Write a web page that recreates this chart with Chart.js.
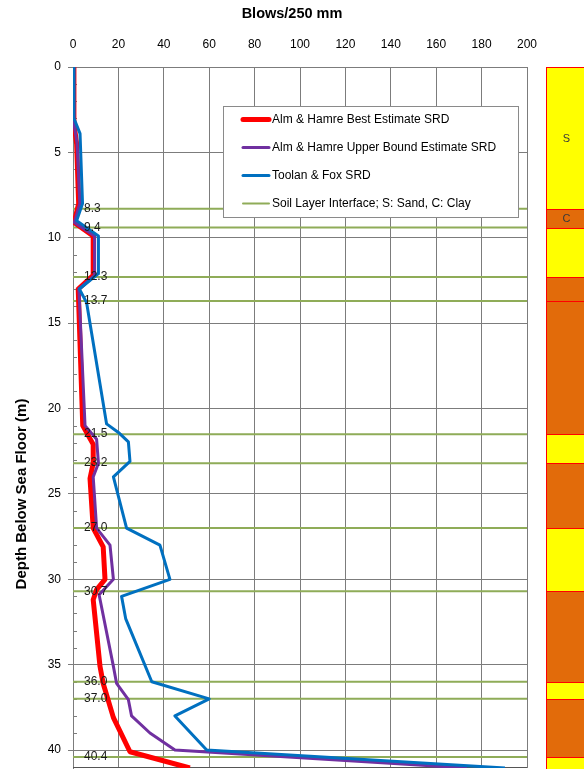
<!DOCTYPE html>
<html>
<head>
<meta charset="utf-8">
<script src="https://cdn.jsdelivr.net/npm/chart.js@4/dist/chart.umd.min.js"></script>
<style>
  html, body { margin: 0; padding: 0; background: #fff; overflow: hidden; }
  #wrap { position: relative; width: 584px; height: 769px; }
</style>
</head>
<body>
<div id="wrap"><canvas id="srd" width="584" height="769"></canvas></div>
<script>
// Soil resistance to driving profiles: blows per 250 mm against depth below sea floor (m)
const bestDepth = [0, 3.3, 4.5, 8.0, 9.1, 9.9, 12.2, 13.0, 21.0, 22.1, 23.2, 24.1, 27.0, 28.1, 30.0, 30.6, 31.2, 35.1, 36.1, 38.1, 40.1, 41.05];
const bestBlows = [0.4, 0.4, 1.6, 2.5, 0.5, 8.9, 8.9, 2.3, 4.3, 8.9, 8.9, 7.5, 8.9, 13.3, 14.1, 10.4, 8.9, 11.9, 13.3, 17.8, 25.1, 51.5];

const upperDepth = [0, 3.3, 4.5, 8.0, 9.1, 9.9, 12.2, 13.0, 21.0, 21.8, 23.2, 24.0, 27.0, 28.0, 30.0, 30.9, 35.1, 36.1, 37.05, 38.0, 39.0, 40.0, 41.05];
const upperBlows = [0.4, 0.4, 1.8, 3.0, 0.6, 9.5, 9.5, 2.6, 5.3, 10.4, 11.2, 8.9, 10.4, 16.3, 17.8, 11.5, 17.8, 19.2, 24.4, 25.8, 33.9, 44.9, 173.5];

const toolanDepth = [0, 3.0, 3.9, 8.0, 9.0, 9.9, 12.1, 13.0, 13.8, 20.9, 21.4, 21.95, 23.1, 24.0, 27.0, 28.0, 30.0, 31.0, 32.3, 34.1, 36.0, 37.0, 38.0, 40.0, 41.05];
const toolanBlows = [0.4, 0.4, 3.1, 4.2, 1.6, 11.2, 11.2, 2.8, 6.0, 14.8, 20.0, 24.4, 25.1, 17.8, 23.6, 38.3, 42.7, 21.4, 23.2, 28.8, 34.7, 60.0, 44.9, 58.9, 190.3];

// Soil layer interfaces (m) and layer types from the sea floor down
const interfaceDepths = [8.3, 9.4, 12.3, 13.7, 21.5, 23.2, 27.0, 30.7, 36.0, 37.0, 40.4];
const layerTypes = ['S', 'C', 'S', 'C', 'C', 'S', 'C', 'S', 'C', 'S', 'C', 'S'];
const layerTags  = ['S', 'C', '', '', '', '', '', '', '', '', '', ''];

// Axis ticks
const blowTicks = [0, 20, 40, 60, 80, 100, 120, 140, 160, 180, 200];
const depthTicks = [0, 5, 10, 15, 20, 25, 30, 35, 40];

const seriesNames = [
  'Alm & Hamre Best Estimate SRD',
  'Alm & Hamre Upper Bound Estimate SRD',
  'Toolan & Fox SRD',
  'Soil Layer Interface; S: Sand, C: Clay'
];

const FONT = "'Liberation Sans', Arial, sans-serif";
const GRID = '#7c7c7c';
const SAND = '#FFFF00';
const CLAY = '#E26B0A';
const DEPTH_MAX = 41.05;

const toPoints = (depths, blows) => depths.map((d, i) => ({ x: blows[i], y: d }));

const interfacePoints = [];
interfaceDepths.forEach(d => {
  interfacePoints.push({ x: blowTicks[0], y: d }, { x: blowTicks[blowTicks.length - 1], y: d }, { x: null, y: null });
});

Chart.defaults.font.family = FONT;
Chart.defaults.color = '#000';

const noLabelPadding = s => { s.paddingTop = 0; s.paddingBottom = 0; s.paddingLeft = 0; s.paddingRight = 0; };

// Background pieces: minor depth ticks and bottom frame line
const frameBits = {
  id: 'frameBits',
  beforeDatasetsDraw(chart) {
    const { ctx, chartArea: a, scales: { y } } = chart;
    ctx.save();
    ctx.strokeStyle = GRID;
    ctx.lineWidth = 1;
    ctx.beginPath();
    for (let d = 1; d < DEPTH_MAX; d++) {
      if (d % 5 === 0) continue;
      const py = Math.round(y.getPixelForValue(d)) + 0.5;
      ctx.moveTo(a.left, py);
      ctx.lineTo(a.left + 4, py);
    }
    ctx.stroke();
    ctx.strokeStyle = '#555';
    ctx.beginPath();
    ctx.moveTo(a.left, a.bottom - 0.5);
    ctx.lineTo(a.right, a.bottom - 0.5);
    ctx.stroke();
    ctx.restore();
  }
};

// Interface depth labels, soil column, legend and depth axis title
const overlays = {
  id: 'overlays',
  afterDraw(chart) {
    const { ctx, chartArea: a, scales: { y } } = chart;
    ctx.save();

    // depth labels on the interface lines
    ctx.font = '12px ' + FONT;
    ctx.fillStyle = '#1a1a1a';
    ctx.textAlign = 'left';
    ctx.textBaseline = 'middle';
    interfaceDepths.forEach(d => {
      ctx.fillText(d.toFixed(1), a.left + 11, y.getPixelForValue(d));
    });

    // soil column
    const bounds = [0, ...interfaceDepths, DEPTH_MAX + 2];
    const x0 = a.right + 19.5;
    const x1 = chart.width + 10;
    layerTypes.forEach((t, i) => {
      const t0 = Math.round(y.getPixelForValue(bounds[i])) + 0.5;
      const t1 = Math.round(y.getPixelForValue(bounds[i + 1])) + 0.5;
      ctx.fillStyle = t === 'S' ? SAND : CLAY;
      ctx.fillRect(x0, t0, x1 - x0, t1 - t0);
      ctx.strokeStyle = '#FF0000';
      ctx.lineWidth = 1;
      ctx.strokeRect(x0, t0, x1 - x0, t1 - t0);
      if (layerTags[i]) {
        ctx.fillStyle = '#3a3a3a';
        ctx.font = '11px ' + FONT;
        ctx.textAlign = 'center';
        ctx.fillText(layerTags[i], x0 + 20, (t0 + t1) / 2);
      }
    });

    // legend box
    const lx = a.left + 150, ly = a.top + 39, lw = 295, lh = 111;
    ctx.fillStyle = '#fff';
    ctx.fillRect(lx + 0.5, ly + 0.5, lw, lh);
    ctx.strokeStyle = '#8a8a8a';
    ctx.lineWidth = 1;
    ctx.strokeRect(lx + 0.5, ly + 0.5, lw, lh);
    chart.data.datasets.forEach((ds, i) => {
      const ry = ly + 13.5 + i * 28;
      ctx.strokeStyle = ds.borderColor;
      ctx.lineWidth = ds.borderWidth;
      ctx.lineCap = 'round';
      ctx.beginPath();
      ctx.moveTo(lx + 20, ry);
      ctx.lineTo(lx + 46, ry);
      ctx.stroke();
      ctx.fillStyle = '#000';
      ctx.font = '12px ' + FONT;
      ctx.textAlign = 'left';
      ctx.textBaseline = 'middle';
      ctx.fillText(ds.label, lx + 49, ry);
    });

    // depth axis title
    ctx.translate(21.5, 494);
    ctx.rotate(-Math.PI / 2);
    ctx.font = 'bold 15px ' + FONT;
    ctx.fillStyle = '#000';
    ctx.textAlign = 'center';
    ctx.textBaseline = 'middle';
    ctx.fillText('Depth Below Sea Floor (m)', 0, 0);
    ctx.restore();
  }
};

new Chart(document.getElementById('srd'), {
  type: 'scatter',
  data: {
    datasets: [
      { label: seriesNames[0], data: toPoints(bestDepth, bestBlows), showLine: true, yAxisID: 'y',
        borderColor: '#FF0000', backgroundColor: '#FF0000', borderWidth: 5, pointRadius: 0,
        borderJoinStyle: 'round', order: 2 },
      { label: seriesNames[1], data: toPoints(upperDepth, upperBlows), showLine: true, yAxisID: 'y',
        borderColor: '#7030A0', backgroundColor: '#7030A0', borderWidth: 3, pointRadius: 0,
        borderJoinStyle: 'round', order: 1 },
      { label: seriesNames[2], data: toPoints(toolanDepth, toolanBlows), showLine: true, yAxisID: 'y',
        borderColor: '#0070C0', backgroundColor: '#0070C0', borderWidth: 3, pointRadius: 0,
        borderJoinStyle: 'round', order: 0 },
      { label: seriesNames[3], data: interfacePoints, showLine: true, spanGaps: false, yAxisID: 'y',
        borderColor: '#8FAC58', backgroundColor: '#8FAC58', borderWidth: 2, pointRadius: 0, order: 3 }
    ]
  },
  options: {
    responsive: false,
    animation: false,
    devicePixelRatio: 1,
    layout: { padding: { left: 0, right: 0, top: 0, bottom: 1 } },
    plugins: {
      legend: { display: false },
      tooltip: { enabled: false },
      title: {
        display: true,
        text: 'Blows/250 mm',
        color: '#000',
        font: { size: 14.5, weight: 'bold', family: FONT, lineHeight: 1.2 },
        padding: { top: 5, bottom: 10 }
      }
    },
    scales: {
      x: {
        type: 'linear',
        position: 'top',
        min: blowTicks[0],
        max: blowTicks[blowTicks.length - 1],
        afterBuildTicks(s) { s.ticks = blowTicks.map(v => ({ value: v })); },
        afterFit(s) { s.height = 34.6; noLabelPadding(s); },
        ticks: { padding: 15, color: '#000', font: { size: 12 }, maxRotation: 0 },
        grid: { color: GRID, drawTicks: false },
        border: { color: GRID }
      },
      y: {
        type: 'linear',
        position: 'left',
        reverse: true,
        min: 0,
        max: DEPTH_MAX,
        afterBuildTicks(s) { s.ticks = depthTicks.map(v => ({ value: v })); },
        afterFit(s) { s.width = 73; noLabelPadding(s); },
        ticks: { padding: 7, color: '#000', font: { size: 12 } },
        grid: { color: GRID, tickLength: 5 },
        border: { color: GRID }
      },
      // room on the right of the plot for the soil column
      soil: {
        type: 'linear',
        position: 'right',
        reverse: true,
        min: 0,
        max: DEPTH_MAX,
        ticks: { display: false },
        grid: { display: false, drawTicks: false },
        border: { display: false },
        afterFit(s) { s.width = 57; noLabelPadding(s); }
      }
    }
  },
  plugins: [frameBits, overlays]
});
</script>
</body>
</html>
